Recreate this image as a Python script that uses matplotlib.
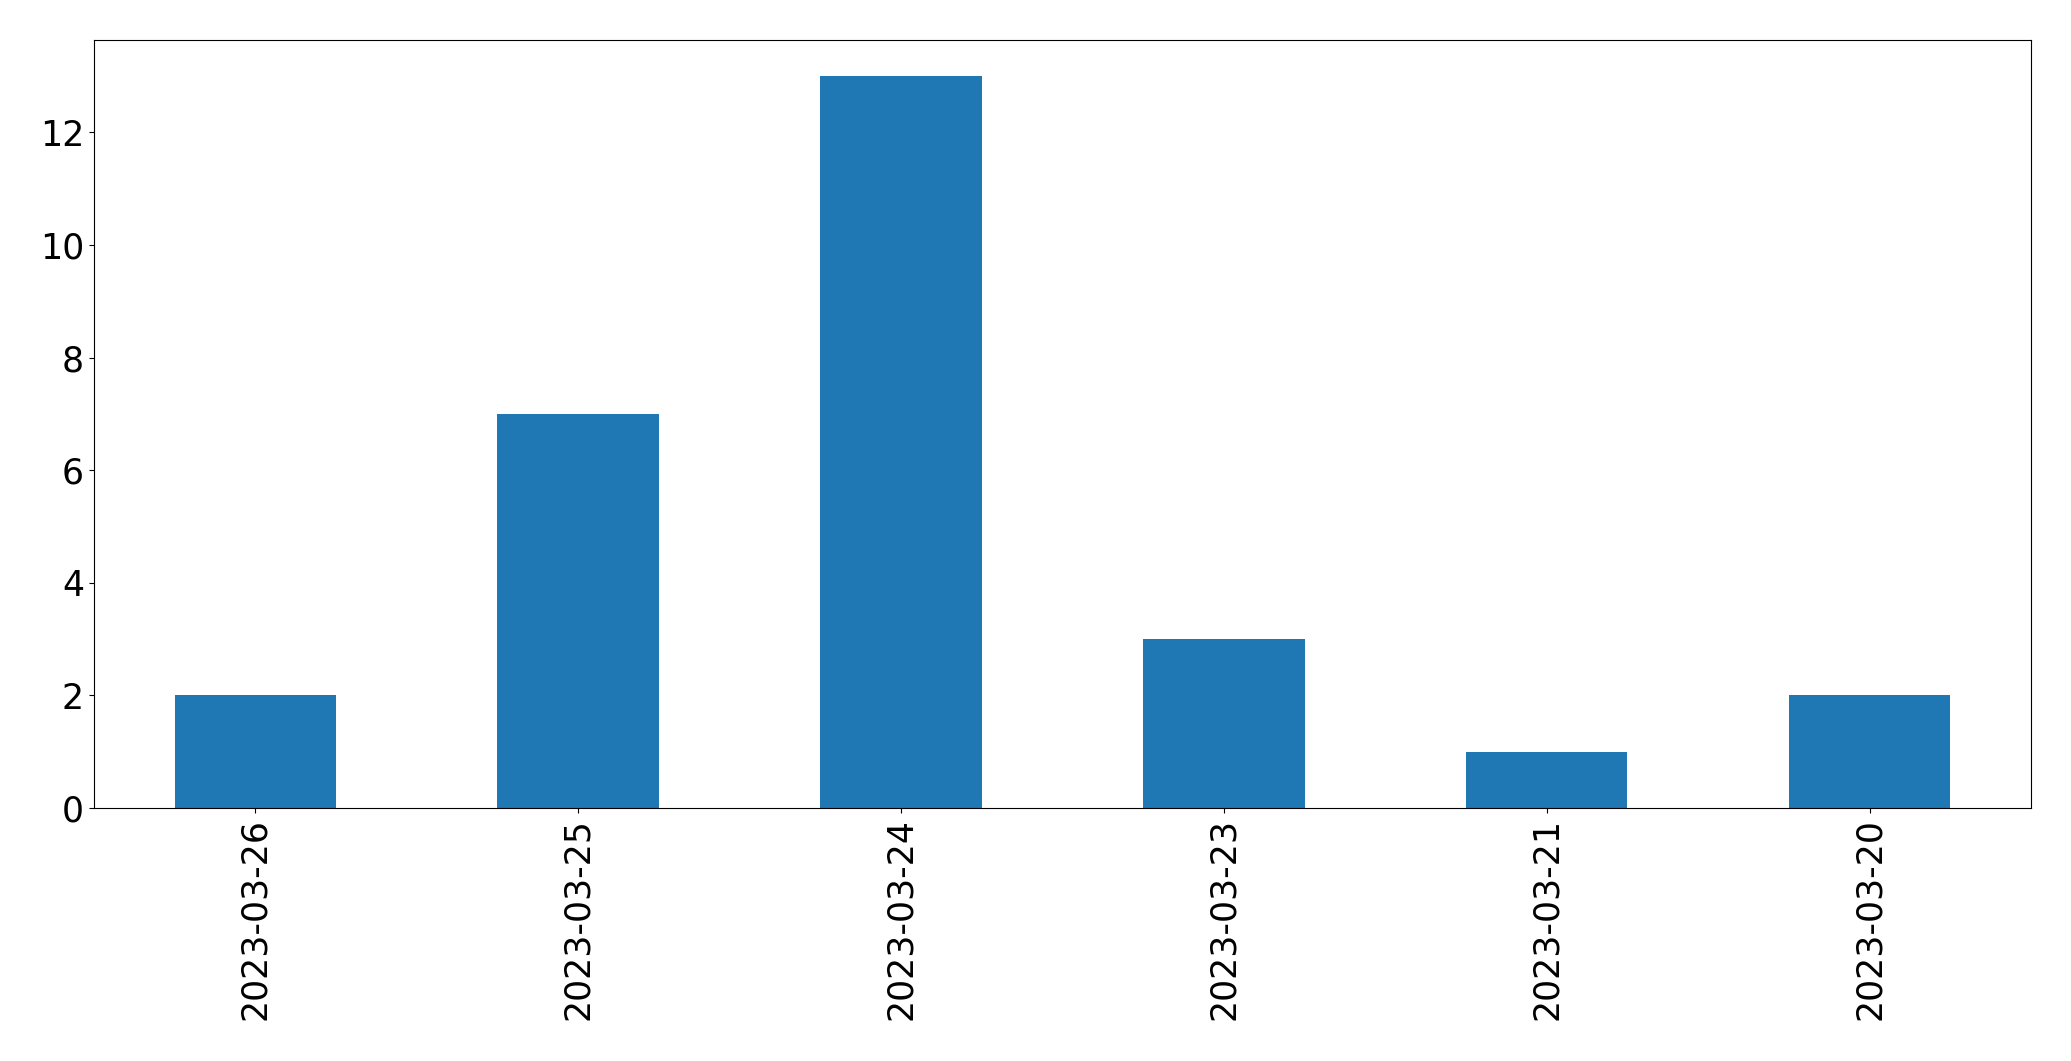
import matplotlib
matplotlib.use("Agg")
from matplotlib import pyplot as plt

dates = ["2023-03-26", "2023-03-25", "2023-03-24", "2023-03-23", "2023-03-21", "2023-03-20"]
counts = [2, 7, 13, 3, 1, 2]

fig = plt.figure(figsize=(20.71, 10.61), dpi=100)
ax = fig.add_axes([0.0453, 0.2385, 0.9354, 0.7242])

x = range(len(dates))
ax.bar(x, counts, width=0.5, color="#1f77b4")
ax.set_xticks(list(x))
ax.set_xticklabels(dates, rotation=90)
ax.set_xlim(-0.5, len(dates) - 0.5)
ax.tick_params(labelsize=25)

fig.savefig("out.png", dpi=100)
